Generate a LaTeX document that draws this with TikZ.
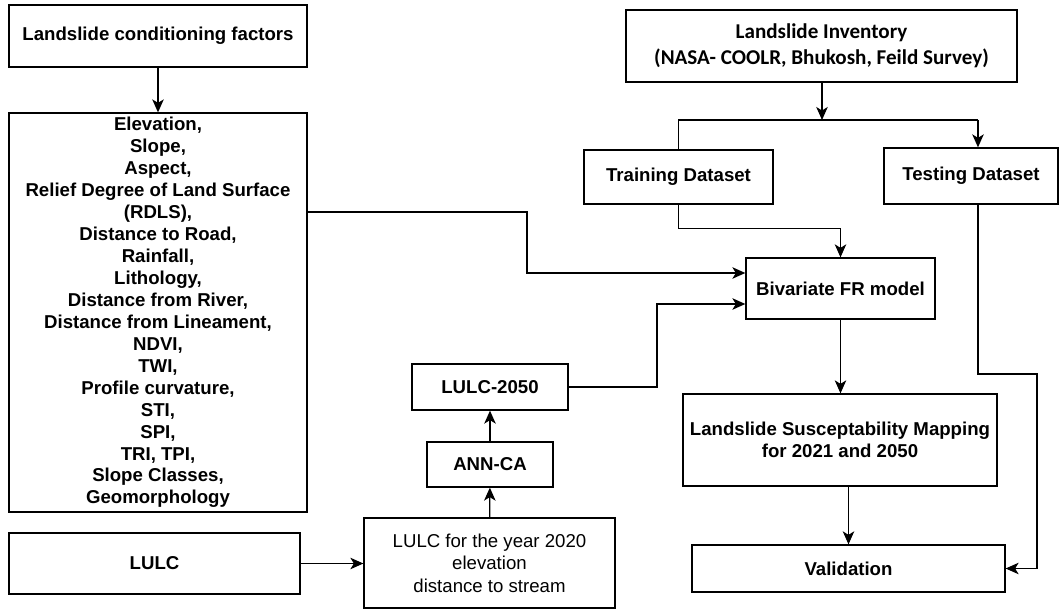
\documentclass[tikz,border=0pt]{standalone}
\usepackage{fontspec}
\setmainfont{Liberation Sans}
\newfontfamily\calfont{Carlito}
\usepackage{tikz}
\usetikzlibrary{arrows.meta, positioning, calc}

\begin{document}
\begin{tikzpicture}[
    x=0.02cm, y=-0.02cm,
    box/.style={draw, line width=0.75pt, inner sep=0pt, align=center, font=\bfseries\fontsize{10.6}{12.5}\selectfont},
    plain/.style={box, font=\fontsize{10.6}{12.8}\selectfont},
    arrow/.style={-{Stealth[length=2.6mm, width=2.3mm, inset=0.7mm]}, line width=0.75pt},
    link/.style={line width=0.75pt}
]
    \useasboundingbox (0,0) rectangle (1063,611);
    \node[box, minimum width=5.96cm, minimum height=1.24cm] (cond) at (158,36) {Landslide conditioning factors};
    \node[box, minimum width=5.96cm, minimum height=7.98cm] (factors) at (158,312.5) {Elevation,\\ Slope,\\ Aspect,\\ Relief Degree of Land Surface\\ (RDLS),\\ Distance to Road,\\ Rainfall,\\ Lithology,\\ Distance from River,\\ Distance from Lineament,\\ NDVI,\\ TWI,\\ Profile curvature,\\ STI,\\ SPI,\\ TRI, TPI,\\ Slope Classes,\\ Geomorphology};
    \node[box, minimum width=5.82cm, minimum height=1.22cm] (lulc) at (154.5,563.5) {LULC};
    \node[plain, minimum width=5.02cm, minimum height=1.8cm] (lulcnow) at (489.5,563) {LULC for the year 2020\\ elevation\\ distance to stream};
    \node[box, minimum width=2.52cm, minimum height=0.9cm] (annca) at (490,464.5) {ANN-CA};
    \node[box, minimum width=3.12cm, minimum height=0.92cm] (lulcfut) at (490,387) {LULC-2050};
    \node[box, minimum width=7.82cm, minimum height=1.44cm, font=\calfont\bfseries\fontsize{12}{14.5}\selectfont] (inv) at (821.5,46) {Landslide Inventory\\ (NASA- COOLR, Bhukosh, Feild Survey)};
    \node[box, minimum width=3.78cm, minimum height=1.08cm] (train) at (678.5,177) {Training Dataset};
    \node[box, minimum width=3.48cm, minimum height=1.12cm] (test) at (971,176) {Testing Dataset};
    \node[box, minimum width=3.78cm, minimum height=1.22cm] (fr) at (840.5,288.5) {Bivariate FR model};
    \node[box, minimum width=6.28cm, minimum height=1.84cm] (lsm) at (840,440) {Landslide Susceptability Mapping\\ for 2021 and 2050};
    \node[box, minimum width=6.26cm, minimum height=0.94cm] (valid) at (848.5,568.5) {Validation};

    \coordinate (split) at (822,120);
    \coordinate (tsplit) at (978,120);
    \coordinate (tbend) at (1037,374);
    \coordinate (fbend) at (527,212);
    \coordinate (lbend) at (657,304);

    \draw[arrow] (cond) -- (factors);
    \draw[arrow] (inv.south -| split) -- (split);
    \draw[link] (train.north) |- (tsplit);
    \draw[arrow] (tsplit) -- (tsplit |- test.north);
    \draw[arrow] (train.south) -- ++(0,24) -| (fr.north);
    \draw[arrow] (factors.east |- fbend) -- (fbend) |- ($(fr.west)+(0,-15.5)$);
    \draw[arrow] (lulcfut.east) -| (lbend) -- (lbend -| fr.west);
    \draw[arrow] (fr.south) -- (fr.south |- lsm.north);
    \draw[arrow] (valid.north |- lsm.south) -- (valid.north);
    \draw[arrow] (tsplit |- test.south) |- (tbend) |- (valid.east);
    \draw[arrow] (lulc.east) -- (lulc.east -| lulcnow.west);
    \draw[arrow] (lulcnow) -- (annca);
    \draw[arrow] (annca) -- (lulcfut);
\end{tikzpicture}
\end{document}
